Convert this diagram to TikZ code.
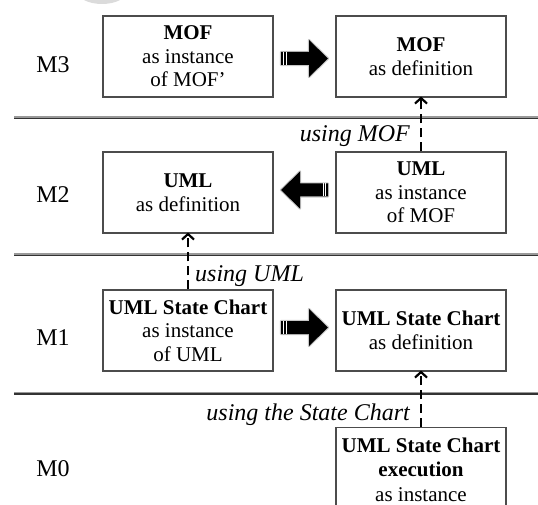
\documentclass[tikz,border=0pt]{standalone}
\usepackage{fontspec}
\setmainfont{Liberation Serif}
\usetikzlibrary{arrows.meta,calc}

\tikzset{
  levelbox/.style={draw=black!70, line width=1.1pt, fill=white,
    minimum width=170pt, minimum height=81pt, inner sep=0pt, align=center,
    font=\fontsize{21}{23.5}\selectfont},
  levelname/.style={inner sep=0pt, font=\fontsize{24}{26}\selectfont},
  usage/.style={inner sep=0pt, font=\fontsize{24}{26}\selectfont\itshape},
  dasharrow/.style={line width=2.2pt, dash pattern=on 9pt off 5pt,
    -{Straight Barb[length=5.5pt,width=12pt,line width=2.2pt]}, shorten >=-1pt},
  levelline/.style={line width=1.3pt, black!80},
  levelshade/.style={line width=1.3pt, black!40}
}

% block arrow centred on #1, pointing right (#2=1) or left (#2=-1)
\newcommand{\blockarrow}[2]{%
  \begin{scope}[shift={(#1)}, xscale=#2]
    \draw[line width=2.2pt, black!22, line join=round]
      (-23.5,-6.5) -- (4.5,-6.5) -- (4.5,-18.5) -- (23.5,0) -- (4.5,18.5)
      -- (4.5,6.5) -- (-23.5,6.5) -- cycle;
    \fill[black]
      (-23.5,-6.5) -- (4.5,-6.5) -- (4.5,-18.5) -- (23.5,0) -- (4.5,18.5)
      -- (4.5,6.5) -- (-23.5,6.5) -- cycle;
    \draw[white, line width=0.8pt] (-21.2,-6.5) -- (-21.2,6.5);
    \draw[white, line width=0.8pt] (-18.5,-6.5) -- (-18.5,6.5);
  \end{scope}}

\begin{document}
\begin{tikzpicture}[x=1pt, y=-1pt]
  \useasboundingbox (0,0) rectangle (538,505);
  \clip (0,0) rectangle (538,505);

  % faint grey blob at the upper edge
  \fill[black!14] (102,-9) ellipse [x radius=25, y radius=13];

  % level separators
  \foreach \yy in {118,255,393.5} {
    \draw[levelshade] (14,\yy-0.9) -- (538,\yy-0.9);
    \draw[levelline] (14,\yy+0.4) -- (538,\yy+0.4);
  }

  % level names
  \node[levelname] (n3) at (53,65) {M3};
  \node[levelname] (n2) at (53,195) {M2};
  \node[levelname] (n1) at (53,338) {M1};
  \node[levelname] (n0) at (53,469) {M0};

  % M3
  \node[levelbox] (m3l) at (188,56.5) {\textbf{MOF}\\as instance\\of MOF’};
  \node[levelbox] (m3r) at (421,56.5) {\textbf{MOF}\\as definition};
  % M2
  \node[levelbox] (m2l) at (188,192.5) {\textbf{UML}\\as definition};
  \node[levelbox] (m2r) at (421,192.5) {\textbf{UML}\\as instance\\of MOF};
  % M1
  \node[levelbox] (m1l) at (188,330.5) {\textbf{UML State Chart}\\as instance\\of UML};
  \node[levelbox] (m1r) at (421,330.5) {\textbf{UML State Chart}\\as definition};
  % M0
  \node[levelbox, anchor=north, minimum height=84pt,
        font=\fontsize{21}{24.5}\selectfont] (m0) at (421,427)
    {\textbf{UML State Chart}\\\textbf{execution}\\as instance};

  % block arrows between the boxes of a level
  \coordinate (a3) at ($(m3l.east)!0.5!(m3r.west)+(0,2)$);
  \coordinate (a2) at ($(m2l.east)!0.5!(m2r.west)+(0,-2.5)$);
  \coordinate (a1) at ($(m1l.east)!0.5!(m1r.west)+(0,-3)$);
  \blockarrow{a3}{1}
  \blockarrow{a2}{-1}
  \blockarrow{a1}{1}

  % "using" relations across levels
  \draw[dasharrow] (m2r.north) -- (m3r.south);
  \draw[dasharrow] (m1l.north) -- (m2l.south);
  \draw[dasharrow] (m0.north) -- (m1r.south);

  \node[usage, anchor=base east] (u3) at (410,142) {using MOF};
  \node[usage, anchor=base west] (u2) at (195,281) {using UML};
  \node[usage, anchor=base east] (u1) at (410,420) {using the State Chart};
\end{tikzpicture}
\end{document}
